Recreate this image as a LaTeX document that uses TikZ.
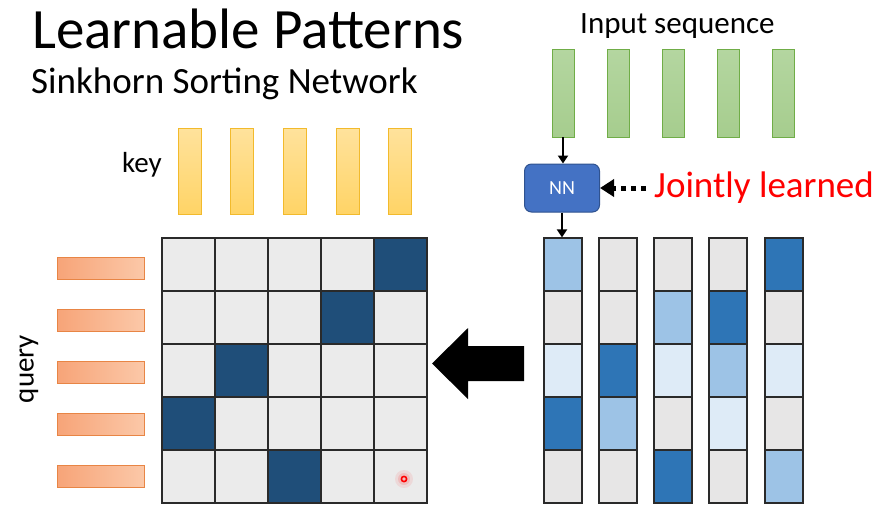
\documentclass[tikz,border=0pt]{standalone}
\usepackage{fontspec}
\setmainfont{Carlito}
\usetikzlibrary{arrows.meta, positioning}
\definecolor{navy}{HTML}{1F4E79}
\definecolor{cellgray}{HTML}{EBEBEB}
\definecolor{colgray}{HTML}{E7E6E6}
\definecolor{midblue}{HTML}{2E75B6}
\definecolor{lightblue}{HTML}{9DC3E6}
\definecolor{paleblue}{HTML}{DEEBF7}
\definecolor{nnblue}{HTML}{4472C4}
\definecolor{nnedge}{HTML}{2F528F}
\definecolor{greentop}{HTML}{B4D6A0}
\definecolor{greenbot}{HTML}{A6CD8E}
\definecolor{greenedge}{HTML}{70AD47}
\definecolor{keytop}{HTML}{FFE29C}
\definecolor{keybot}{HTML}{FFD466}
\definecolor{keyedge}{HTML}{F2BA2C}
\definecolor{qleft}{HTML}{F7A478}
\definecolor{qright}{HTML}{FBC8A8}
\definecolor{qedge}{HTML}{E88545}
\definecolor{gridline}{HTML}{2A2A2A}

\begin{document}
\begin{tikzpicture}[x=1pt, y=-1pt,
    cell/.style={draw=gridline, line width=1.2pt, minimum width=53pt, minimum height=53pt, inner sep=0pt},
    scell/.style={draw=gridline, line width=1.2pt, minimum width=38pt, minimum height=53pt, inner sep=0pt},
    keybar/.style={draw=keyedge, line width=0.8pt, top color=keytop, bottom color=keybot, minimum width=23pt, minimum height=86pt, inner sep=0pt},
    inbar/.style={draw=greenedge, line width=0.8pt, top color=greentop, bottom color=greenbot, minimum width=22pt, minimum height=88pt, inner sep=0pt},
    qbar/.style={draw=qedge, line width=0.8pt, left color=qleft, right color=qright, minimum width=87pt, minimum height=22pt, inner sep=0pt},
    arr/.style={-{Triangle[length=8pt,width=10pt]}, line width=2pt}]
  \useasboundingbox (0,0) rectangle (888,531);
  % --- titles ---
  \node[anchor=base west, inner sep=0pt, font=\fontsize{57}{64}\selectfont] (title) at (32,48) {Learnable Patterns};
  \node[anchor=base west, inner sep=0pt, font=\fontsize{37}{42}\selectfont] (subtitle) at (31,93) {Sinkhorn Sorting Network};
  % --- key and query ---
  \foreach \i/\x in {1/190,2/242,3/295,4/348,5/400}
    \node[keybar] (k\i) at (\x,171) {};
  \node[anchor=base east, inner sep=0pt, font=\fontsize{29}{34}\selectfont] (keylab) at (162,172) {key};
  \foreach \i/\y in {1/268,2/320,3/372,4/424,5/476}
    \node[qbar] (q\i) at (100.5,\y) {};
  \node[rotate=90, inner sep=0pt, font=\fontsize{29}{34}\selectfont] (querylab) at (29,369) {query};
  % --- attention matrix ---
  \foreach \r/\d in {1/5,2/4,3/2,4/1,5/3}
    \foreach \c in {1,...,5} {
      \ifnum\c=\d \def\cellfill{navy}\else\def\cellfill{cellgray}\fi
      \node[cell, fill=\cellfill] (m\r\c) at ({135.5+53*\c},{211.5+53*\r}) {};
    }
  \coordinate (dot) at (404,479);
  \fill[red, opacity=0.08] (dot) circle (9);
  \fill[red, opacity=0.12] (dot) circle (6);
  \draw[red, line width=1.6pt] (dot) circle (2.6);
  % --- input sequence and NN ---
  \node[anchor=base west, inner sep=0pt, font=\fontsize{31}{36}\selectfont] (inlab) at (580,33) {Input sequence};
  \foreach \i/\x in {1/563,2/618,3/673,4/728,5/783}
    \node[inbar] (in\i) at (\x,93) {};
  \node[draw=nnedge, line width=1pt, fill=nnblue, rounded corners=7pt, minimum width=75pt, minimum height=48pt,
        text=white, font=\fontsize{20}{24}\selectfont] (nn) at (562,188) {NN};
  \node[anchor=base west, inner sep=0pt, text=red, font=\fontsize{37}{42}\selectfont] (joint) at (654,197) {Jointly learned};
  \draw[arr] (in1.south) -- (in1.south |- nn.north);
  \draw[-{Triangle[length=14pt,width=17pt]}, line width=5pt, dash pattern=on 5pt off 5pt, shorten <=8pt]
    (joint.west |- nn.east) -- (nn.east);
  % --- sorted columns ---
  \foreach \c/\x/\cols in {1/563/{lightblue,colgray,paleblue,midblue,colgray},
                           2/618/{colgray,colgray,midblue,lightblue,colgray},
                           3/673/{colgray,lightblue,paleblue,colgray,midblue},
                           4/728/{colgray,midblue,lightblue,paleblue,colgray},
                           5/784/{midblue,colgray,paleblue,colgray,lightblue}}
    \foreach \k [count=\r] in \cols
      \node[scell, fill=\k] (s\c\r) at (\x,{211.5+53*\r}) {};
  \draw[arr] (nn.south) -- (nn.south |- s11.north);
  % --- big arrow ---
  \fill (524,346) -- (468,346) -- (468,328) -- (432,363.5) -- (468,399) -- (468,381) -- (524,381) -- cycle;
\end{tikzpicture}
\end{document}
